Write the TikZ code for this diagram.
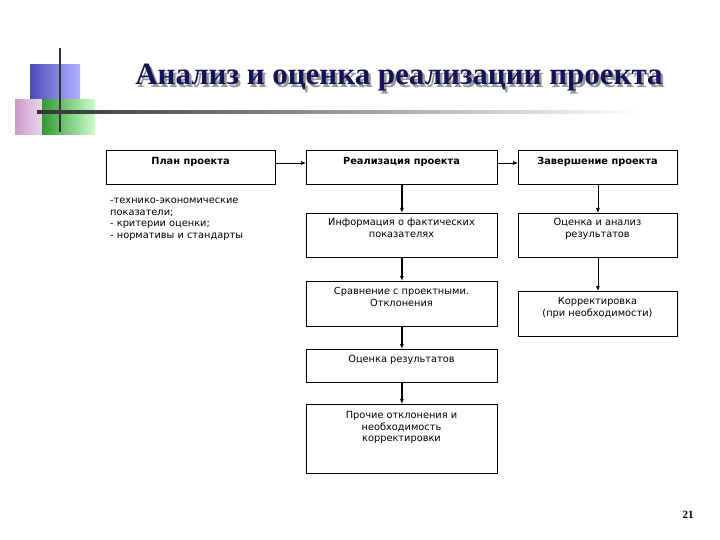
\documentclass[tikz,border=0pt]{standalone}
\usepackage{fontspec}
\setmainfont{DejaVu Sans}
\newfontfamily\ttlfnt[BoldFont={Liberation Serif Bold}]{Liberation Serif}
\usetikzlibrary{arrows.meta}
\definecolor{navy}{RGB}{20,20,90}
\begin{document}
\begin{tikzpicture}[x=1pt,y=-1pt,
  box/.style={draw,line width=0.8pt,anchor=north west,inner sep=0pt},
  txt/.style={font=\fontsize{9.8}{11.5}\selectfont,align=center,anchor=north},
  btxt/.style={font=\fontsize{9.8}{11.5}\selectfont\bfseries,anchor=north},
  thin/.style={-{Latex[length=5pt,width=4pt]},line width=0.7pt},
  thick/.style={-{Latex[length=5pt,width=4pt]},line width=1.6pt}]
\useasboundingbox (0,0) rectangle (720,540);
\fill[white] (0,0) rectangle (720,540);
% decoration
\fill[left color=blue!60!black!70, right color=blue!30!white] (30,65) rectangle (80,100);
\fill[left color=violet!40, right color=white] (15,100) rectangle (60,135);
\fill[left color=green!50!black!80, right color=green!20!white] (42,100) rectangle (95,135);
\draw[line width=1.5pt,black!80] (60,48) -- (60,132);
\shade[left color=black!80,right color=white] (37,110.5) rectangle (640,113.5);
\node[text=black!40] at (401.5,80.5) {\ttlfnt\bfseries\fontsize{31}{33}\selectfont Анализ и оценка реализации проекта};
\node[text=navy] (title) at (399,78) {\ttlfnt\bfseries\fontsize{31}{33}\selectfont Анализ и оценка реализации проекта};
% boxes
\node[box,minimum width=169pt,minimum height=34pt] (plan) at (106,150) {};
\node[btxt] at (190.5,154) {План проекта};
\node[box,minimum width=191pt,minimum height=34pt] (real) at (306,150) {};
\node[btxt] at (401.5,154) {Реализация проекта};
\node[box,minimum width=159pt,minimum height=34pt] (zav) at (518,150) {};
\node[btxt] at (597.5,154) {Завершение проекта};
\node[font=\fontsize{9.8}{11.5}\selectfont,align=left,anchor=north west,inner sep=0pt] (list) at (110,198) {-технико-экономические\\показатели;\\- критерии оценки;\\- нормативы и стандарты};
\node[box,minimum width=191pt,minimum height=44pt] (info) at (306,213) {};
\node[txt] at (401.5,215) {Информация о фактических\\показателях};
\node[box,minimum width=159pt,minimum height=44pt] (oa) at (518,213) {};
\node[txt] at (597.5,215) {Оценка и анализ\\результатов};
\node[box,minimum width=191pt,minimum height=45pt] (sr) at (306,281) {};
\node[txt] at (401.5,284) {Сравнение с проектными.\\Отклонения};
\node[box,minimum width=159pt,minimum height=45pt] (kor) at (518,291) {};
\node[txt] at (597.5,294) {Корректировка\\(при необходимости)};
\node[box,minimum width=191pt,minimum height=33pt] (or) at (306,349) {};
\node[txt] at (401.5,352) {Оценка результатов};
\node[box,minimum width=191pt,minimum height=69pt] (pr) at (306,404) {};
\node[txt] at (401.5,408) {Прочие отклонения и\\необходимость\\корректировки};
% arrows
\draw[thin] (plan.east |- 0,163) -- (real.west |- 0,163);
\draw[thin] (real.east |- 0,163) -- (zav.west |- 0,163);
\draw[thick] (real.south) -- (info.north);
\draw[thick] (info.south) -- (sr.north);
\draw[thick] (sr.south) -- (or.north);
\draw[thick] (or.south) -- (pr.north);
\draw[thin] (zav.south) -- (oa.north);
\draw[thin] (oa.south) -- (kor.north);
\node (pg) at (688,515) {\ttlfnt\bfseries\fontsize{11}{12}\selectfont 21};
\end{tikzpicture}
\end{document}
